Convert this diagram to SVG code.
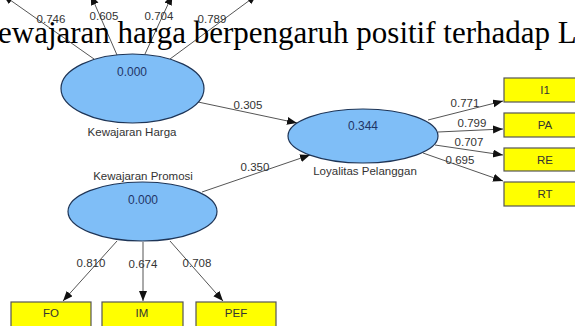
<svg xmlns="http://www.w3.org/2000/svg" width="575" height="326" viewBox="0 0 575 326">
<style>
.lv{fill:#7fbef7;stroke:#1e3557;stroke-width:1.2}
.ind{fill:#ffff00;stroke:#555;stroke-width:1.2}
.t{font-family:"Liberation Sans",Arial,sans-serif;font-size:11.5px;fill:#333;text-anchor:middle}
.v{font-family:"Liberation Sans",Arial,sans-serif;font-size:12px;fill:#1f3566;text-anchor:middle}
.c{stroke:#555;stroke-width:1;fill:none;marker-end:url(#ah)}
.big{font-family:"Liberation Serif","Times New Roman",serif;font-size:31px;fill:#000}
</style>
<defs>
<marker id="ah" markerUnits="userSpaceOnUse" markerWidth="11" markerHeight="9" refX="10" refY="4" orient="auto">
<path d="M0,0 L10,4 L0,8 z" fill="#111"/>
</marker>
</defs>
<rect width="575" height="326" fill="#fff"/>
<g id="connectors">
<line class="c" x1="94" y1="59" x2="3" y2="-5"/>
<line class="c" x1="117" y1="55" x2="90.8" y2="-5"/>
<line class="c" x1="145" y1="54" x2="172.3" y2="-5"/>
<line class="c" x1="170" y1="59" x2="256.8" y2="-5"/>
<line class="c" x1="198" y1="102" x2="297" y2="123"/>
<line class="c" x1="202" y1="192" x2="310" y2="155"/>
<line class="c" x1="428" y1="120" x2="503" y2="101"/>
<line class="c" x1="438" y1="132" x2="503" y2="129"/>
<line class="c" x1="435" y1="145" x2="503" y2="155"/>
<line class="c" x1="423" y1="153" x2="503" y2="181"/>
<line class="c" x1="117" y1="241" x2="63" y2="301"/>
<line class="c" x1="143" y1="242" x2="143" y2="301"/>
<line class="c" x1="170" y1="241" x2="223" y2="301"/>
<text class="t" x="51" y="23">0.746</text>
<text class="t" x="104" y="20">0.605</text>
<text class="t" x="159" y="20">0.704</text>
<text class="t" x="212" y="23">0.789</text>
<text class="t" x="248" y="109">0.305</text>
<text class="t" x="255" y="171">0.350</text>
<text class="t" x="465" y="107">0.771</text>
<text class="t" x="472" y="127">0.799</text>
<text class="t" x="469" y="146">0.707</text>
<text class="t" x="460" y="164">0.695</text>
<text class="t" x="91" y="267">0.810</text>
<text class="t" x="143" y="268">0.674</text>
<text class="t" x="197" y="267">0.708</text>
</g>
<g id="kewajaran-harga">
<ellipse class="lv" cx="132.5" cy="88.5" rx="71.5" ry="34.5"/>
<text class="v" x="132" y="76">0.000</text>
<text class="t" x="132" y="136">Kewajaran Harga</text>
</g>
<g id="kewajaran-promosi">
<ellipse class="lv" cx="142.5" cy="211.5" rx="74.5" ry="29.5"/>
<text class="v" x="143" y="204">0.000</text>
<text class="t" x="143" y="180">Kewajaran Promosi</text>
</g>
<g id="loyalitas-pelanggan">
<ellipse class="lv" cx="363" cy="136" rx="75" ry="27"/>
<text class="v" x="363" y="130">0.344</text>
<text class="t" x="365" y="175">Loyalitas Pelanggan</text>
</g>
<g id="ind-I1"><rect class="ind" x="504" y="78" width="82" height="24"/><text class="t" x="545" y="94">I1</text></g>
<g id="ind-PA"><rect class="ind" x="504" y="113" width="82" height="24"/><text class="t" x="545" y="129">PA</text></g>
<g id="ind-RE"><rect class="ind" x="504" y="148" width="82" height="23"/><text class="t" x="545" y="164">RE</text></g>
<g id="ind-RT"><rect class="ind" x="504" y="182" width="82" height="24"/><text class="t" x="545" y="198">RT</text></g>
<g id="ind-FO"><rect class="ind" x="11" y="302" width="80" height="26"/><text class="t" x="51" y="317">FO</text></g>
<g id="ind-IM"><rect class="ind" x="102" y="302" width="81" height="26"/><text class="t" x="142" y="317">IM</text></g>
<g id="ind-PEF"><rect class="ind" x="196" y="302" width="80" height="26"/><text class="t" x="236" y="317">PEF</text></g>
<text class="big" x="-2" y="43">ewajaran harga berpengaruh positif terhadap L</text>
</svg>
